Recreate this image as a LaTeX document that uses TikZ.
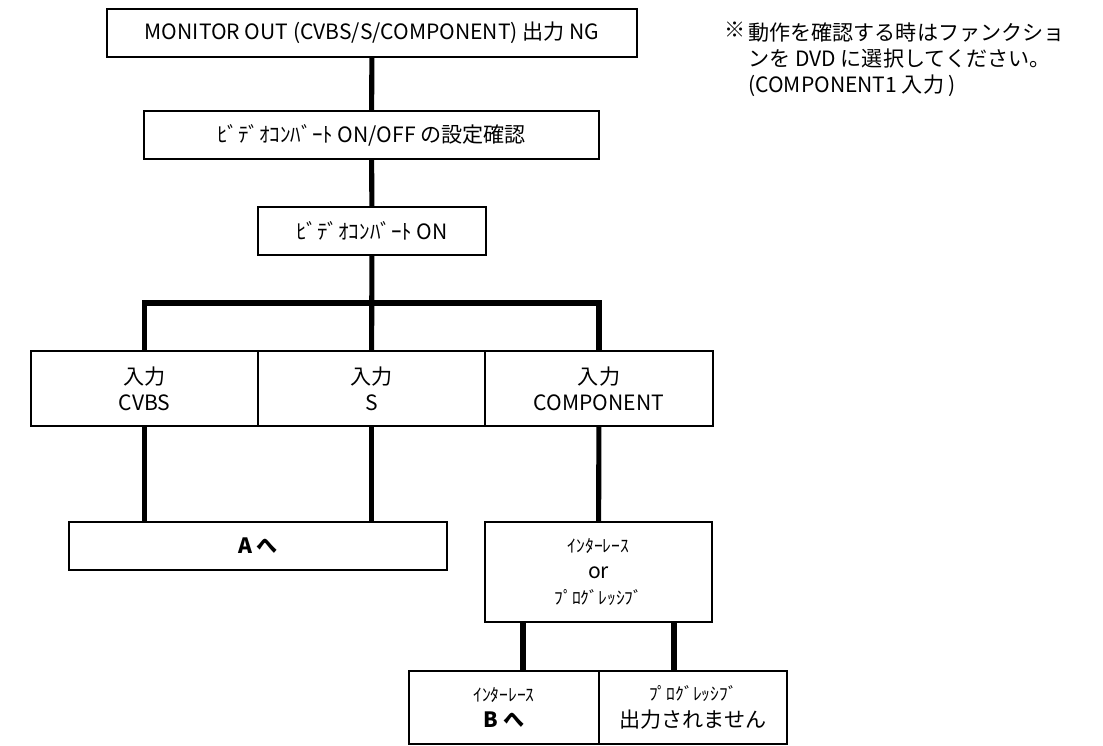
\documentclass[tikz,border=0pt]{standalone}
\usepackage{fontspec}
\setmainfont{Noto Sans CJK JP}
\newcommand{\kanasize}{\fontsize{10}{14}\selectfont}
\begin{document}
\begin{tikzpicture}[
    x=0.02cm, y=-0.02cm,
    box/.style={
        draw=black,
        line width=0.8pt,
        inner sep=0pt,
        align=center,
        font=\fontsize{12}{15}\selectfont
    },
    heavybox/.style={box, line width=1.4pt},
    link/.style={line width=2.9pt}
]
\useasboundingbox (0,0) rectangle (1103,746);

% Upper chain
\node[box, minimum width=10.6cm, minimum height=0.96cm] (monitor) at (372,33)
    {MONITOR OUT (CVBS/S/COMPONENT) 出力 NG};
\node[heavybox, minimum width=9.1cm, minimum height=0.96cm] (check) at (371.5,135)
    {ﾋﾞﾃﾞｵｺﾝﾊﾞｰﾄ ON/OFF の設定確認};
\node[heavybox, minimum width=4.56cm, minimum height=0.96cm] (convon) at (372,231)
    {ﾋﾞﾃﾞｵｺﾝﾊﾞｰﾄ ON};

% Input row
\node[box, minimum width=4.54cm, minimum height=1.5cm] (cvbs) at (144.5,388.5) {入力\\CVBS};
\node[box, minimum width=4.54cm, minimum height=1.5cm] (svid) at (371.5,388.5) {入力\\S};
\node[box, minimum width=4.56cm, minimum height=1.5cm] (comp) at (599,388.5) {入力\\COMPONENT};

% Results
\node[heavybox, minimum width=7.56cm, minimum height=0.96cm] (toA) at (258,546) {\textbf{A へ}};
\node[heavybox, minimum width=4.54cm, minimum height=2cm] (scan) at (598.5,572)
    {\kanasize ｲﾝﾀｰﾚｰｽ\\or\\\kanasize ﾌﾟﾛｸﾞﾚｯｼﾌﾞ};
\node[box, line width=1.1pt, minimum width=3.8cm, minimum height=1.46cm] (inter) at (504,707.5)
    {\kanasize ｲﾝﾀｰﾚｰｽ\\\textbf{B へ}};
\node[box, line width=1.1pt, minimum width=3.76cm, minimum height=1.46cm] (prog) at (693,707.5)
    {\kanasize ﾌﾟﾛｸﾞﾚｯｼﾌﾞ\\出力されません};

% Note
\node[anchor=north west, inner sep=0pt, font=\fontsize{12}{15}\selectfont] (mark) at (724,22) {※};
\node[anchor=north west, inner sep=0pt, align=left, font=\fontsize{12}{14.8}\selectfont] (note) at (748,22)
    {動作を確認する時はファンクショ\\ンを DVD に選択してください。\\(COMPONENT1 入力 )};

% Connectors
\coordinate (fork) at (372,303);
\coordinate (dropL) at (523,0);
\coordinate (dropR) at (674,0);
\draw[link] (monitor) -- (check);
\draw[link] (check) -- (convon);
\draw[link] (convon) -- (svid);
\draw[link] (cvbs.north) |- (fork) -| (comp.north);
\draw[link] (cvbs.south) -- (cvbs.south |- toA.north);
\draw[link] (svid.south) -- (svid.south |- toA.north);
\draw[link] (comp) -- (scan);
\draw[link] (scan.south -| dropL) -- (inter.north -| dropL);
\draw[link] (scan.south -| dropR) -- (prog.north -| dropR);
\end{tikzpicture}
\end{document}
